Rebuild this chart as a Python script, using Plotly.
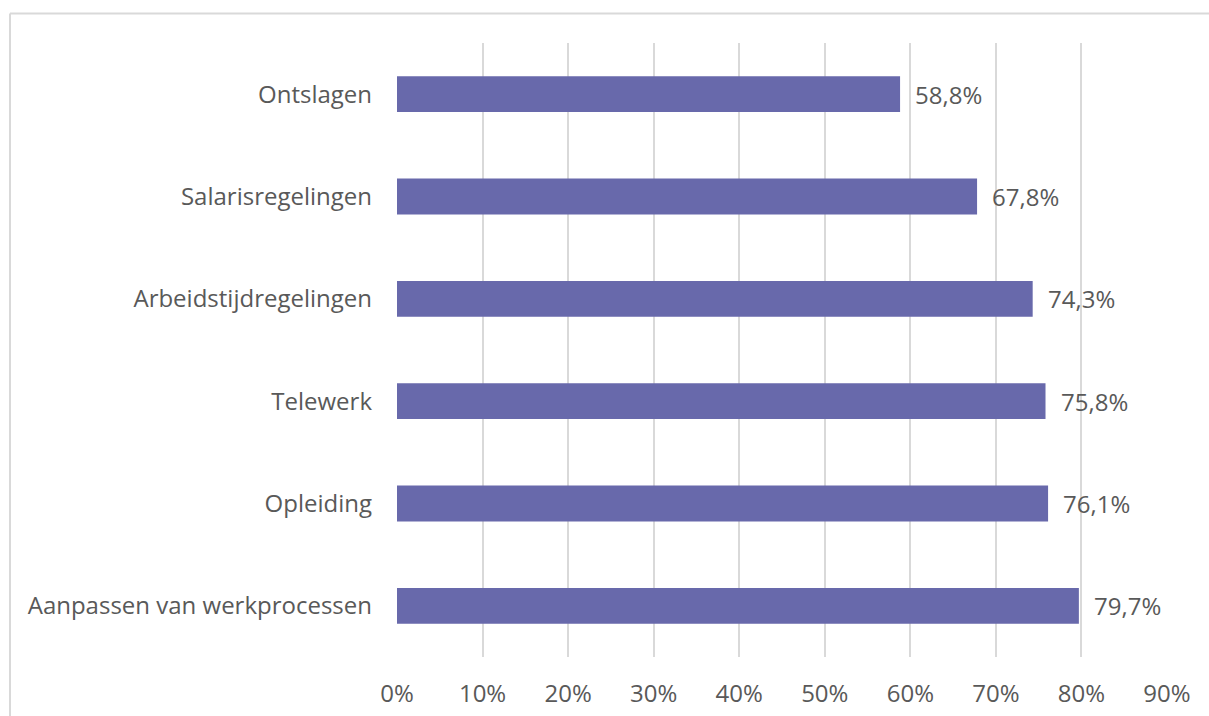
import plotly.graph_objects as go

categories = [
    "Aanpassen van werkprocessen",
    "Opleiding",
    "Telewerk",
    "Arbeidstijdregelingen",
    "Salarisregelingen",
    "Ontslagen",
]
values = [79.7, 76.1, 75.8, 74.3, 67.8, 58.8]
tick_values = [0, 10, 20, 30, 40, 50, 60, 70, 80, 90]
tick_labels = [f"{v}%" for v in tick_values]

BAR_COLOR = "#6869AB"
TEXT_COLOR = "#595959"
GRID_COLOR = "#D9D9D9"
FONT = "Open Sans"
FSIZE = 24

W, H = 1209, 716
ML, MR, MT, MB = 397, 42, 43, 59

fig = go.Figure(
    go.Bar(
        x=values,
        y=categories,
        orientation="h",
        marker=dict(color=BAR_COLOR, line=dict(width=0)),
        width=0.35,
        hoverinfo="skip",
    )
)

# value labels to the right of each bar
for cat, v in zip(categories, values):
    fig.add_annotation(
        x=v, y=cat, xref="x", yref="y",
        text=f"{v:.1f}%".replace(".", ","),
        showarrow=False, xanchor="left", yanchor="middle",
        xshift=13,
        font=dict(family=FONT, size=FSIZE, color=TEXT_COLOR),
    )

# chart-area border (top and left edges)
px = lambda x: (x - ML) / (W - ML - MR)
py = lambda y: 1 - (y - MT) / (H - MT - MB)
border = dict(color=GRID_COLOR, width=2)
fig.add_shape(type="line", xref="paper", yref="paper",
              x0=px(10), x1=px(1212), y0=py(13.5), y1=py(13.5), line=border)
fig.add_shape(type="line", xref="paper", yref="paper",
              x0=px(10), x1=px(10), y0=py(13.5), y1=py(720), line=border)

fig.update_layout(
    width=W, height=H,
    margin=dict(l=ML, r=MR, t=MT, b=MB, pad=0, autoexpand=False),
    paper_bgcolor="white", plot_bgcolor="white",
    showlegend=False,
    font=dict(family=FONT, size=FSIZE, color=TEXT_COLOR),
    xaxis=dict(
        range=[0, 90], automargin=False,
        tickvals=tick_values, ticktext=tick_labels,
        showgrid=True, gridcolor=GRID_COLOR, gridwidth=2,
        zeroline=False, showline=False,
        ticks="", ticklabelstandoff=20,
        tickfont=dict(family=FONT, size=FSIZE, color=TEXT_COLOR),
        fixedrange=True,
    ),
    yaxis=dict(
        categoryorder="array", categoryarray=categories,
        range=[-0.5, 5.5], automargin=False,
        showgrid=False, zeroline=False, showline=False,
        ticks="", ticklabelstandoff=24,
        tickfont=dict(family=FONT, size=FSIZE, color=TEXT_COLOR),
        fixedrange=True,
    ),
)

fig.write_html("out.html", config={"displayModeBar": False})
